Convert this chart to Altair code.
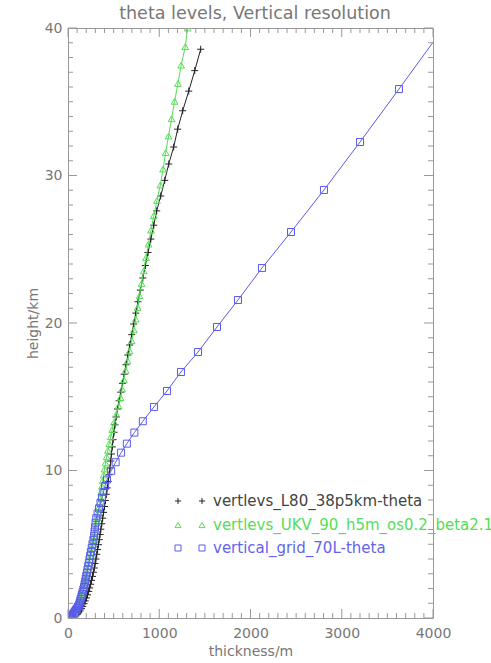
import altair as alt
import pandas as pd

# ---------------- data ----------------
# vertlevs_L80_38p5km-theta  (black +)
l80_height = [38.56, 37.11, 35.72, 34.39, 33.14, 31.93, 30.78, 29.67, 28.61, 27.60,
              26.63, 25.69, 24.78, 23.90, 23.05, 22.23, 21.44, 20.67, 19.93, 19.21,
              18.51, 17.83, 17.17, 16.53, 15.91, 15.31, 14.73, 14.17, 13.63, 13.10,
              12.59, 12.09, 11.60, 11.12, 10.64, 10.17, 9.71, 9.26, 8.82, 8.39,
              7.97, 7.56, 7.16, 6.77, 6.39, 6.02, 5.66, 5.31, 4.97, 4.64,
              4.32, 4.00, 3.69, 3.39, 3.10, 2.82, 2.55, 2.29, 2.04, 1.80,
              1.57, 1.36, 1.16, 0.97, 0.79, 0.63, 0.48, 0.35, 0.23, 0.13, 0.05]
l80_thick = [1454, 1389, 1323, 1257, 1202, 1158, 1104, 1060, 1016, 972,
             940, 908, 877, 848, 820, 793, 767, 743, 720, 698,
             677, 656, 636, 616, 597, 578, 560, 543, 527, 515,
             504, 494, 485, 476, 468, 460, 450, 440, 430, 420,
             410, 400, 390, 380, 370, 360, 351, 342, 333, 324,
             315, 306, 297, 288, 278, 268, 258, 248, 237, 226,
             214, 202, 189, 176, 162, 148, 133, 118, 100, 80, 50]

# vertlevs_UKV_90_h5m_os0.2_beta2.1  (green triangles)
ukv_height = [40.00, 38.73, 37.48, 36.24, 35.03, 33.85, 32.68, 31.55, 30.44, 29.36,
              28.31, 27.29, 26.30, 25.35, 24.43, 23.54, 22.68, 21.85, 21.05, 20.27,
              19.53, 18.80, 18.11, 17.43, 16.78, 16.15, 15.53, 14.94, 14.37, 13.81,
              13.28, 12.78, 12.29, 11.82, 11.37, 10.93, 10.51, 10.10,
              9.70, 9.31, 8.93, 8.56, 8.20, 7.84, 7.49, 7.15, 6.82,
              6.50, 6.19, 5.88, 5.58, 5.29, 5.00, 4.73, 4.46, 4.20, 3.95,
              3.71, 3.48, 3.25, 3.03, 2.82, 2.62, 2.42, 2.23, 2.05, 1.88,
              1.72, 1.57, 1.42, 1.28, 1.15, 1.03, 0.91, 0.80, 0.71, 0.62,
              0.54, 0.47, 0.41, 0.36, 0.31, 0.27, 0.23, 0.19, 0.15, 0.11,
              0.07, 0.035, 0.005]
ukv_thick = [1310, 1285, 1240, 1205, 1168, 1135, 1102, 1070, 1042, 1012,
             975, 940, 910, 882, 855, 830, 806, 784, 763, 742,
             722, 698, 675, 653, 632, 612, 593, 575, 555, 530,
             505, 485, 468, 452, 437, 423, 410, 400,
             390, 381, 372, 363, 355, 347, 339, 331, 323,
             315, 307, 299, 291, 283, 275, 267, 259, 251, 243,
             235, 227, 219, 211, 203, 195, 187, 179, 171, 163,
             155, 147, 139, 131, 123, 115, 106, 97, 88, 79,
             70, 61, 52, 44, 38, 33, 28, 23, 18, 14,
             10, 7, 5]

# vertical_grid_70L-theta  (blue squares)
g70_height = [40.05, 35.86, 32.27, 29.02, 26.17, 23.73, 21.56, 19.73, 18.03, 16.68,
              15.39, 14.31, 13.34, 12.57, 11.82, 11.21, 10.56, 9.98,
              9.38, 8.95, 8.55, 8.16, 7.79, 7.43, 7.09, 6.77, 6.46, 6.15,
              5.86, 5.57, 5.28, 5.00, 4.74, 4.47, 4.22, 3.98, 3.75, 3.52,
              3.29, 3.08, 2.87, 2.67, 2.48, 2.29, 2.10, 1.93, 1.76, 1.60,
              1.45, 1.30, 1.16, 1.03, 0.90, 0.78, 0.66, 0.56, 0.48, 0.40,
              0.33, 0.26, 0.20, 0.15, 0.11, 0.08, 0.05, 0.03, 0.013]
g70_thick = [4120, 3627, 3200, 2805, 2444, 2126, 1863, 1633, 1425, 1238,
             1085, 942, 820, 727, 645, 582, 522, 473,
             427, 405, 390, 372, 356, 340, 324, 310, 302, 296,
             291, 286, 278, 268, 260, 251, 243, 236, 229, 222,
             214, 208, 201, 195, 189, 182, 176, 168, 161, 154,
             147, 140, 134, 128, 122, 111, 99, 88, 80, 72,
             65, 57, 49, 41, 34, 27, 21, 15, 10]

series_names = ["vertlevs_L80_38p5km-theta",
                "vertlevs_UKV_90_h5m_os0.2_beta2.1",
                "vertical_grid_70L-theta"]
title_text = "theta levels, Vertical resolution"
x_major = [0, 1000, 2000, 3000, 4000]
x_minor = [v for v in range(100, 4000, 100) if v % 1000 != 0]
y_major = [0, 10, 20, 30, 40]
y_minor = [v for v in range(1, 40) if v % 10 != 0]

# ---------------- styling ----------------
W, H = 365, 590
PLUS = "M-1,0L1,0M0,-1L0,1"
line_colors = ["#222222", "#55dd55", "#5a5aee"]
text_colors = ["#444444", "#55dd55", "#6464ee"]
shapes = [PLUS, "triangle-up", "square"]
sizes = [49, 45, 49]
GRAY = "#999999"
TXT = "#777777"
FONT = "DejaVu Sans"

xs = alt.Scale(domain=[0, 4000], nice=False, zero=False)
ys = alt.Scale(domain=[0, 40], nice=False, zero=False)
axis_style = dict(ticks=False, tickSize=0, domain=False, grid=False, format="d",
                  labelFlush=False, labelColor=TXT, titleColor=TXT, labelFont=FONT,
                  titleFont=FONT, labelFontSize=14, titleFontSize=14,
                  titleFontWeight="normal", labelFontWeight="normal")
xaxis = alt.Axis(values=x_major, title="thickness/m", labelPadding=8, titlePadding=4,
                 **axis_style)
yaxis = alt.Axis(values=y_major, title="height/km", labelPadding=6, titlePadding=4,
                 **axis_style)

layers = []
data_sets = [(l80_thick, l80_height), (ukv_thick, ukv_height), (g70_thick, g70_height)]
for i, (th, hg) in enumerate(data_sets):
    df = pd.DataFrame({"thickness": th, "height": hg, "series": series_names[i]})
    base = alt.Chart(df).encode(
        x=alt.X("thickness:Q", scale=xs, axis=xaxis),
        y=alt.Y("height:Q", scale=ys, axis=yaxis),
        order=alt.Order("height:Q"),
    )
    layers.append(base.mark_line(color=line_colors[i], strokeWidth=1, clip=True))
    layers.append(base.mark_point(shape=shapes[i], filled=False, color=line_colors[i],
                                  size=sizes[i], strokeWidth=1, opacity=1, clip=True))

# inward ticks on all four sides
def xticks(vals, length, top):
    df = pd.DataFrame({"v": vals})
    y0, y1 = (0, length) if top else (H, H - length)
    return alt.Chart(df).mark_rule(color=GRAY, strokeWidth=1).encode(
        x=alt.X("v:Q", scale=xs, axis=xaxis), y=alt.value(y0), y2=alt.value(y1))

def yticks(vals, length, right):
    df = pd.DataFrame({"v": vals})
    x0, x1 = (W, W - length) if right else (0, length)
    return alt.Chart(df).mark_rule(color=GRAY, strokeWidth=1).encode(
        y=alt.Y("v:Q", scale=ys, axis=yaxis), x=alt.value(x0), x2=alt.value(x1))

for top in (False, True):
    layers.append(xticks(x_major, 9, top))
    layers.append(xticks(x_minor, 5, top))
for right in (False, True):
    layers.append(yticks(y_major, 9, right))
    layers.append(yticks(y_minor, 5, right))

# IDL-style legend (two symbols then the name)
legend_rows = [473, 497, 520]
for i, name in enumerate(series_names):
    ldf = pd.DataFrame({"label": [name]})
    for sx in (110, 134):
        layers.append(alt.Chart(ldf).mark_point(
            shape=shapes[i], filled=False, color=line_colors[i], size=36,
            strokeWidth=1, opacity=1).encode(x=alt.value(sx), y=alt.value(legend_rows[i])))
    layers.append(alt.Chart(ldf).mark_text(
        align="left", baseline="middle", fontSize=15, font=FONT,
        color=text_colors[i]).encode(x=alt.value(145), y=alt.value(legend_rows[i]),
                                     text="label:N"))

# title drawn as a text mark above the plot frame
tdf = pd.DataFrame({"t": [title_text]})
layers.append(alt.Chart(tdf).mark_text(
    align="center", baseline="alphabetic", fontSize=17.5, font=FONT, color=TXT
).encode(x=alt.value(187), y=alt.value(-9), text="t:N"))

chart = alt.layer(*layers).properties(
    width=W, height=H,
    background="white",
    padding={"left": 68, "top": 28, "right": 58, "bottom": 45},
    autosize=alt.AutoSizeParams(type="none"),
).configure_view(
    stroke=GRAY, strokeWidth=1
)

chart.save("out.html", embed_options={"renderer": "svg", "actions": False})
